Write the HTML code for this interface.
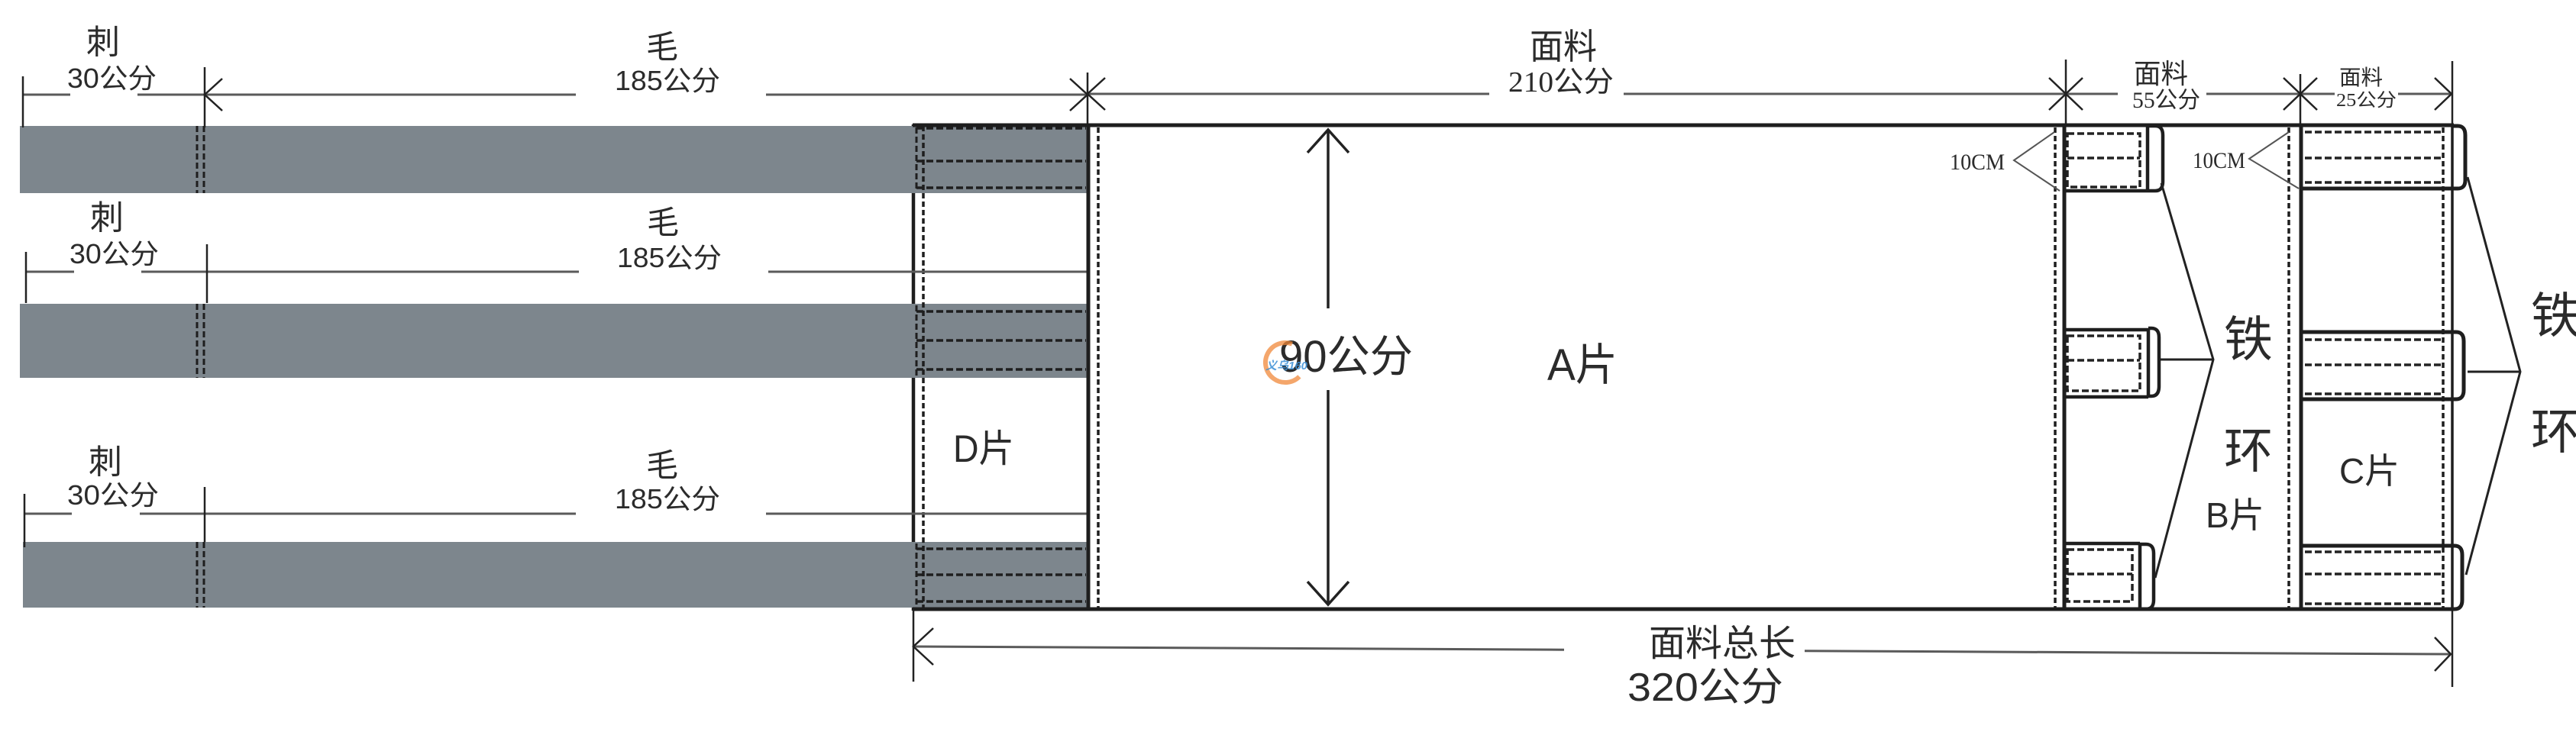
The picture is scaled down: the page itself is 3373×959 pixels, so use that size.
<!DOCTYPE html>
<html><head><meta charset="utf-8"><style>
html,body{margin:0;padding:0;background:#fff;width:3373px;height:959px;overflow:hidden;}
svg{display:block;}
.s{font-family:"Liberation Sans","Noto Sans CJK SC",sans-serif;fill:#2b2b2b;}
.r{font-family:"Liberation Serif","Noto Sans CJK SC",serif;fill:#2b2b2b;}
</style></head><body>
<svg width="3373" height="959" viewBox="0 0 3373 959" xmlns="http://www.w3.org/2000/svg">
<rect width="3373" height="959" fill="#fff"/>

<!-- D left solid line (under bands) -->
<path d="M1196 163 V800" stroke="#1e1e1e" stroke-width="4.5" fill="none"/>

<!-- gray bands -->
<rect x="26" y="165" width="1399" height="88" fill="#7d868d"/>
<rect x="26" y="398" width="1399" height="97" fill="#7d868d"/>
<rect x="30" y="710" width="1395" height="86" fill="#7d868d"/>

<!-- dashed verticals -->
<g stroke="#1e1e1e" stroke-width="3" stroke-dasharray="8 4" fill="none">
<path d="M258 165 V253 M267 165 V253"/>
<path d="M258 398 V495 M267 398 V495"/>
<path d="M258 710 V796 M267 710 V796"/>
<path d="M1200 167 V251 M1200 400 V493 M1200 712 V794"/>
</g>
<g stroke="#1e1e1e" stroke-width="3.5" stroke-dasharray="7 4" fill="none">
<path d="M1209 165 V798"/>
<path d="M1438 167 V796"/>
<path d="M2691 167 V796"/>
<path d="M2997 167 V796"/>
<path d="M3199 167 V796"/>
</g>
<!-- D horizontal dashed -->
<g stroke="#1e1e1e" stroke-width="3.5" stroke-dasharray="9 4" fill="none">
<path d="M1200 168 H1422 M1200 211 H1422 M1200 246 H1422"/>
<path d="M1200 408 H1422 M1200 446 H1422 M1200 484 H1422"/>
<path d="M1200 719 H1422 M1200 753 H1422 M1200 788 H1422"/>
</g>

<!-- dimension lines -->
<g stroke="#5a5a5a" stroke-width="3" fill="none">
<path d="M30 124 H92 M180 124 H754 M1003 124 H1424"/>
<path d="M34 356 H97 M185 356 H758 M1006 356 H1424"/>
<path d="M32 673 H94 M183 673 H754 M1003 673 H1424"/>
<path d="M1424 123 H1950 M2126 123 H2773 M2889 123 H3057 M3140 123 H3210"/>
<path d="M1196 847 L2048 851.2 M2363 852.8 L3209 857"/>
</g>
<!-- ticks & arrowheads -->
<g stroke="#222" stroke-width="2.5" fill="none">
<path d="M30 100 V167 M268 88 V167 M1424 95 V165"/>
<path d="M34 330 V397 M271 320 V397"/>
<path d="M32 647 V717 M268 638 V710"/>
<path d="M2705 78 V165 M3012 97 V165 M3211 80 V900 M1196 800 V893"/>
<path d="M291 103 L268 124 L291 145"/>
<path d="M1401 103 L1424 124 L1401 145"/>
<path d="M1447 102 L1424 123 L1447 144"/>
<path d="M2683 102 L2705 123 L2683 144"/>
<path d="M2727 102 L2705 123 L2727 144"/>
<path d="M2990 102 L3012 123 L2990 144"/>
<path d="M3034 102 L3012 123 L3034 144"/>
<path d="M3188 102 L3210 123 L3188 144"/>
<path d="M1222 823 L1196 847 L1222 871"/>
<path d="M3188 835 L3209 857 L3188 879"/>
</g>

<!-- main frame -->
<g stroke="#1e1e1e" fill="none">
<path d="M1195 164 H3213" stroke-width="5"/>
<path d="M1195 798 H3213" stroke-width="5"/>
<path d="M1425 163 V798" stroke-width="5"/>
<path d="M2703 163 V798" stroke-width="5"/>
<path d="M3013 163 V798" stroke-width="5"/>
<path d="M3211 165 V798" stroke-width="3.5"/>
</g>

<!-- vertical 90 arrow -->
<g stroke="#222" stroke-width="3.5" fill="none">
<path d="M1739 170 V404 M1739 511 V792"/>
<path d="M1712 200 L1739 170 L1766 200"/>
<path d="M1712 762 L1739 792 L1766 762"/>
</g>

<!-- B tabs -->
<g stroke="#1e1e1e" stroke-width="4.5" fill="none">
<path d="M2703 250 H2812 M2812 165 V250 M2812 165 H2822 Q2832 165 2832 177 V238 Q2832 250 2822 250 H2812"/>
<path d="M2703 432 H2813 M2703 520 H2813 M2813 432 V520 M2813 430 H2817 Q2827 430 2827 442 V506 Q2827 519 2817 519 H2813"/>
<path d="M2703 712 H2802 M2802 712 V798 M2802 713 H2810 Q2820 713 2820 725 V786 Q2820 798 2810 798 H2802"/>
</g>
<g stroke="#222" stroke-width="3.5" stroke-dasharray="9 4" fill="none">
<rect x="2707" y="175" width="95" height="70"/>
<path d="M2707 207 H2802"/>
<rect x="2707" y="440" width="95" height="72"/>
<path d="M2707 472 H2802"/>
<rect x="2707" y="720" width="85" height="68"/>
<path d="M2707 752 H2792"/>
</g>

<!-- C tabs -->
<g stroke="#1e1e1e" stroke-width="5" fill="none">
<path d="M3013 247 H3218 M3211 165 H3218 Q3228 165 3228 177 V236 Q3228 247 3218 247"/>
<path d="M3013 435 H3216 M3013 523 H3216 M3216 435 Q3226 435 3226 447 V511 Q3226 523 3216 523"/>
<path d="M3013 715 H3214 M3214 715 Q3224 715 3224 727 V786 Q3224 798 3214 798 H3211"/>
</g>
<g stroke="#222" stroke-width="3.5" stroke-dasharray="9 4" fill="none">
<path d="M3018 173 H3199 M3018 207 H3199 M3018 239 H3199"/>
<path d="M3018 445 H3199 M3018 478 H3199 M3018 516 H3199"/>
<path d="M3018 723 H3199 M3018 752 H3199 M3018 791 H3199"/>
</g>

<!-- 铁环 leader lines -->
<g stroke="#222" stroke-width="3" fill="none">
<path d="M2830 240 L2898 471 L2822 757 M2829 471 H2898"/>
<path d="M3231 232 L3300 487 L3229 753 M3231 487 H3300"/>
</g>

<!-- 10CM leaders -->
<g stroke="#555" stroke-width="2" fill="none">
<path d="M2690 173 L2637 210 L2697 250"/>
<path d="M2997 173 L2945 208 L3010 247"/>
</g>

<!-- Left labels -->
<text class="s" x="113" y="70" font-size="44">刺</text>
<text class="s" x="88" y="115" font-size="36" textLength="117" lengthAdjust="spacingAndGlyphs">30公分</text>
<text class="s" x="846" y="76" font-size="42">毛</text>
<text class="s" x="805" y="118" font-size="36" textLength="138" lengthAdjust="spacingAndGlyphs">185公分</text>

<text class="s" x="118" y="300" font-size="44">刺</text>
<text class="s" x="91" y="345" font-size="36" textLength="117" lengthAdjust="spacingAndGlyphs">30公分</text>
<text class="s" x="847" y="306" font-size="42">毛</text>
<text class="s" x="808" y="350" font-size="36" textLength="137" lengthAdjust="spacingAndGlyphs">185公分</text>

<text class="s" x="116" y="620" font-size="44">刺</text>
<text class="s" x="88" y="661" font-size="36" textLength="120" lengthAdjust="spacingAndGlyphs">30公分</text>
<text class="s" x="846" y="624" font-size="42">毛</text>
<text class="s" x="805" y="666" font-size="36" textLength="138" lengthAdjust="spacingAndGlyphs">185公分</text>

<!-- top labels -->
<text class="s" x="2003" y="77" font-size="46" textLength="88" lengthAdjust="spacingAndGlyphs">面料</text>
<text class="r" x="1975" y="120" font-size="38" textLength="138" lengthAdjust="spacingAndGlyphs">210公分</text>
<text class="s" x="2794" y="109" font-size="36" textLength="71" lengthAdjust="spacingAndGlyphs">面料</text>
<text class="r" x="2792" y="141" font-size="30" textLength="89" lengthAdjust="spacingAndGlyphs">55公分</text>
<text class="s" x="3063" y="111" font-size="28" textLength="57" lengthAdjust="spacingAndGlyphs">面料</text>
<text class="r" x="3059" y="139" font-size="24" textLength="79" lengthAdjust="spacingAndGlyphs">25公分</text>

<!-- 10CM -->
<text class="r" x="2553" y="222" font-size="30" textLength="72" lengthAdjust="spacingAndGlyphs">10CM</text>
<text class="r" x="2871" y="220" font-size="30" textLength="69" lengthAdjust="spacingAndGlyphs">10CM</text>

<!-- center labels -->
<text class="s" x="1675" y="487" font-size="58" textLength="175" lengthAdjust="spacingAndGlyphs">90公分</text>
<text class="s" x="2026" y="498" font-size="58" textLength="92" lengthAdjust="spacingAndGlyphs">A片</text>
<text class="s" x="1248" y="605" font-size="50" textLength="80" lengthAdjust="spacingAndGlyphs">D片</text>
<text class="s" x="2888" y="691" font-size="46" textLength="77" lengthAdjust="spacingAndGlyphs">B片</text>
<text class="s" x="3063" y="633" font-size="46" textLength="79" lengthAdjust="spacingAndGlyphs">C片</text>

<text class="s" x="2912" y="467" font-size="64">铁</text>
<text class="s" x="2912" y="613" font-size="64">环</text>
<text class="s" x="3314" y="436" font-size="64">铁</text>
<text class="s" x="3314" y="588" font-size="64">环</text>

<!-- bottom labels -->
<text class="s" x="2159" y="859" font-size="48" textLength="192" lengthAdjust="spacingAndGlyphs">面料总长</text>
<text class="s" x="2131" y="918" font-size="52" textLength="204" lengthAdjust="spacingAndGlyphs">320公分</text>

<!-- watermark logo -->
<path d="M1691.9 450.6 A26 26 0 1 0 1701.4 493.4" stroke="#f0883a" stroke-width="6" fill="none" opacity="0.75"/>
<text x="1657" y="484" font-size="15" font-style="italic" font-weight="bold" fill="#3b8fd6" font-family="Liberation Sans, Noto Sans CJK SC, sans-serif" opacity="0.85">义乌160</text>
</svg>
</body></html>
